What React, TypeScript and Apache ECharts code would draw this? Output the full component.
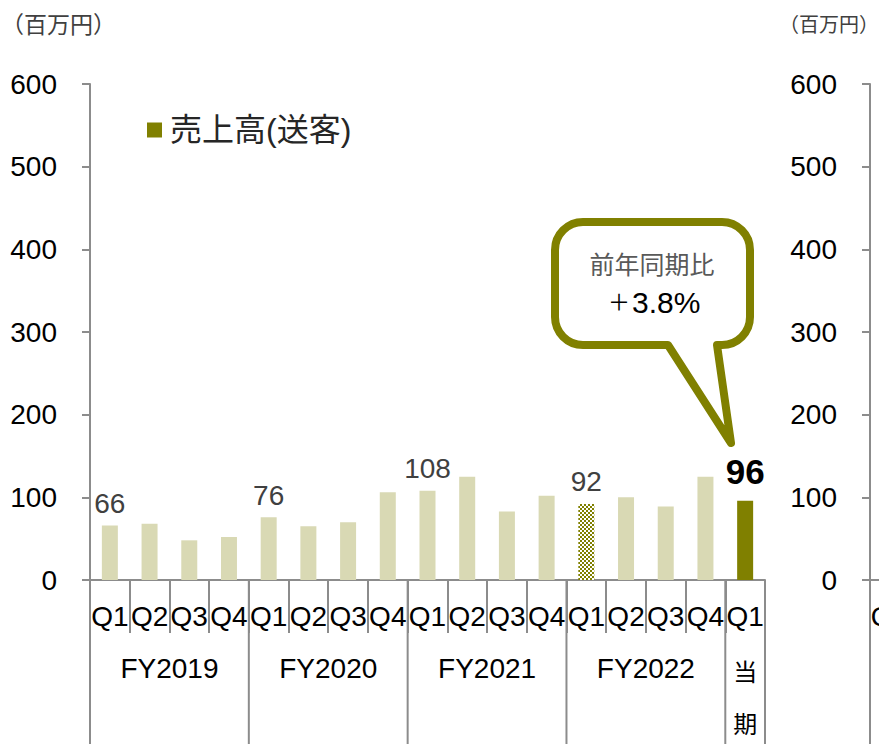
import React, { useEffect, useRef } from "react";
import * as echarts from "echarts";

const FONT = "'Liberation Sans', Arial, 'Noto Sans CJK JP', sans-serif";
const OLIVE = "#808000";
const LIGHT = "#d9d9b4";
const AXIS = "#8c8c8c";

const years = ["FY2019", "FY2020", "FY2021", "FY2022"];
const quarters = ["Q1", "Q2", "Q3", "Q4"];
const currentPeriod = "当期";
const periods = [
  ...years.flatMap((y) => quarters.map((q) => `${y} ${q}`)),
  `${currentPeriod} Q1`,
];
const sales = [66, 68, 48, 52, 76, 65, 70, 106, 108, 125, 83, 102, 92, 100, 89, 125, 96];
const labelledIndices = [0, 4, 8, 12, 16];
const patternIndex = 12;
const currentIndex = 16;
const seriesName = "売上高(送客)";
const unitLabel = "（百万円）";
const bubbleTitle = "前年同期比";
const bubbleSign = "＋";
const bubbleValue = "3.8%";

const BUBBLE_D =
  "M583 222 L722 222 A28 28 0 0 1 750 250 L750 317 A28 28 0 0 1 722 345 L717 345 L731 443 L668 345 L583 345 A28 28 0 0 1 555 317 L555 250 A28 28 0 0 1 583 222 Z";

export default function App() {
  const ref = useRef<HTMLDivElement>(null);

  useEffect(() => {
    const chart = echarts.init(ref.current!, null, { renderer: "svg" });
    try {
      echarts.graphic.registerShape("bubble", echarts.graphic.extendPath(BUBBLE_D, {}));
    } catch (e) {}

    const c = document.createElement("canvas");
    c.width = 4;
    c.height = 4;
    const ctx = c.getContext("2d")!;
    ctx.fillStyle = "#ffffff";
    ctx.fillRect(0, 0, 4, 4);
    ctx.fillStyle = OLIVE;
    ctx.fillRect(0, 0, 2, 2);
    ctx.fillRect(2, 2, 2, 2);

    const axisLine = { show: true, lineStyle: { color: AXIS, width: 2 } };
    const yAxisBase = {
      type: "value",
      min: 0,
      max: 600,
      interval: 100,
      axisLine,
      axisTick: { show: true, length: 8, lineStyle: { color: AXIS, width: 2 } },
      splitLine: { show: false },
      axisLabel: { fontSize: 28, color: "#000", margin: 33, fontFamily: FONT },
    };
    const xAxisBase = {
      type: "category",
      data: periods,
      axisLine,
      axisTick: { show: true, interval: 0, length: 53, lineStyle: { color: AXIS, width: 2 } },
      axisLabel: {
        interval: 0,
        hideOverlap: false,
        fontSize: 28,
        color: "#000",
        margin: 22,
        fontFamily: FONT,
        formatter: (v: string) => v.split(" ")[1],
      },
    };

    const data = sales.map((v, i) => {
      let color: any = LIGHT;
      if (i === patternIndex) color = { image: c, repeat: "repeat" };
      if (i === currentIndex) color = OLIVE;
      const show = labelledIndices.includes(i);
      const isCur = i === currentIndex;
      return {
        value: v,
        itemStyle: { color },
        label: {
          show,
          position: "top",
          distance: isCur ? 12 : 8,
          fontSize: isCur ? 35 : 28,
          fontWeight: isCur ? "bold" : "normal",
          color: isCur ? "#000" : "#404040",
          fontFamily: FONT,
        },
      };
    });

    chart.setOption({
      animation: false,
      grid: [
        { left: 90, top: 84, width: 675, height: 496, outerBoundsMode: "none" },
        { left: 870, top: 84, width: 675, height: 496, outerBoundsMode: "none" },
      ],
      xAxis: [
        { ...xAxisBase, gridIndex: 0 },
        {
          ...xAxisBase,
          gridIndex: 1,
          axisLabel: {
            ...xAxisBase.axisLabel,
            interval: (i: number) => i === 0,
            formatter: (v: string) => v.split(" ")[1].charAt(0),
            align: "left",
            padding: [0, 0, 0, -19],
          },
        },
      ],
      yAxis: [
        { ...yAxisBase, gridIndex: 0 },
        { ...yAxisBase, gridIndex: 1, position: "left" },
      ],
      legend: {
        data: [seriesName],
        left: 147,
        top: 114,
        padding: 0,
        icon: "rect",
        itemWidth: 15,
        itemHeight: 15,
        itemGap: 10,
        textStyle: { fontSize: 32, color: "#262626", fontFamily: FONT, padding: [0, 0, 0, 3] },
      },
      series: [
        {
          name: seriesName,
          type: "bar",
          xAxisIndex: 0,
          yAxisIndex: 0,
          barWidth: 16,
          itemStyle: { color: OLIVE },
          data,
        },
      ],
    });

    const cx = (i: number) => chart.convertToPixel({ xAxisIndex: 0 }, i) as number;
    const bw = cx(1) - cx(0);
    const boundary = (i: number) => cx(0) - bw / 2 + i * bw;
    const y0 = chart.convertToPixel({ yAxisIndex: 0 }, 0) as number;
    const cx2 = chart.convertToPixel({ xAxisIndex: 1 }, 0) as number;
    const bw2 = (chart.convertToPixel({ xAxisIndex: 1 }, 1) as number) - cx2;
    const divIdx = [0, 4, 8, 12, 16, 17];

    const graphic: any[] = [];
    divIdx.forEach((k) => {
      const x = boundary(k);
      graphic.push({
        type: "line",
        shape: { x1: x, y1: y0, x2: x, y2: 744 },
        style: { stroke: AXIS, lineWidth: 2 },
      });
    });
    const x2b = cx2 - bw2 / 2;
    graphic.push({
      type: "line",
      shape: { x1: x2b, y1: y0, x2: x2b, y2: 744 },
      style: { stroke: AXIS, lineWidth: 2 },
    });
    years.forEach((y, k) => {
      graphic.push({
        type: "text",
        x: (boundary(4 * k) + boundary(4 * k + 4)) / 2,
        y: 668,
        style: {
          text: y,
          fontSize: 28,
          fontFamily: FONT,
          fill: "#000",
          textAlign: "center",
          textVerticalAlign: "middle",
        },
      });
    });
    graphic.push({
      type: "text",
      x: cx(currentIndex),
      y: 698,
      style: {
        text: currentPeriod.split("").join("\n"),
        fontSize: 24,
        lineHeight: 52,
        fontFamily: FONT,
        fill: "#000",
        textAlign: "center",
        textVerticalAlign: "middle",
      },
    });
    graphic.push(
      {
        type: "text",
        x: 1,
        y: 25,
        style: { text: unitLabel, fontSize: 23, fontFamily: FONT, fill: "#404040", textVerticalAlign: "middle" },
      },
      {
        type: "text",
        x: 779,
        y: 25,
        style: { text: unitLabel, fontSize: 20, fontFamily: FONT, fill: "#404040", textVerticalAlign: "middle" },
      },
      {
        type: "bubble",
        x: 0,
        y: 0,
        scaleX: 1,
        scaleY: 1,
        style: { fill: "#ffffff", stroke: OLIVE, lineWidth: 8, lineJoin: "round" },
        z: 10,
      },
      {
        type: "text",
        x: 652,
        y: 265,
        z: 11,
        style: {
          text: bubbleTitle,
          fontSize: 25,
          fontFamily: FONT,
          fill: "#595959",
          textAlign: "center",
          textVerticalAlign: "middle",
        },
      },
      {
        type: "text",
        x: 608,
        y: 302,
        z: 11,
        style: {
          text: `{s|${bubbleSign}}{n|${bubbleValue}}`,
          fontFamily: FONT,
          fill: "#000",
          textAlign: "left",
          textVerticalAlign: "middle",
          rich: {
            s: { fontSize: 22, fontFamily: FONT, fill: "#000", padding: [0, 2, 0, 0] },
            n: { fontSize: 30, fontFamily: FONT, fill: "#000" },
          },
        },
      }
    );
    chart.setOption({ graphic });

    return () => chart.dispose();
  }, []);

  return (
    <div
      ref={ref}
      style={{ position: "absolute", left: 0, top: 0, width: 879, height: 744, background: "#fff" }}
    />
  );
}
